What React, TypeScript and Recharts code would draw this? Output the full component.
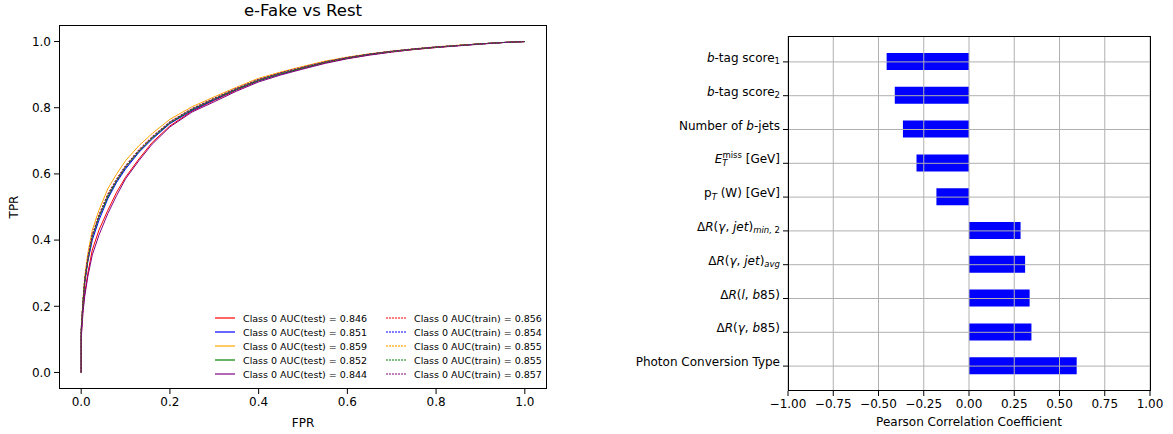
import React from 'react';
import {
  LineChart, Line, XAxis, YAxis, BarChart, Bar, ReferenceLine,
} from 'recharts';

// ---------- ROC data ----------
const fpr = [0, 0, 0.004, 0.008, 0.015, 0.025, 0.04, 0.06, 0.08, 0.10, 0.13, 0.16, 0.20, 0.25, 0.30, 0.35, 0.40, 0.45, 0.50, 0.55, 0.60, 0.65, 0.70, 0.75, 0.80, 0.85, 0.90, 0.95, 1.0];

const redTest = [0, 0.11, 0.19, 0.24, 0.30, 0.37, 0.43, 0.49, 0.545, 0.59, 0.645, 0.695, 0.745, 0.79, 0.822, 0.853, 0.881, 0.902, 0.919, 0.936, 0.949, 0.96, 0.969, 0.976, 0.982, 0.988, 0.993, 0.997, 1.0];
const blueTest = [0, 0.13, 0.21, 0.27, 0.335, 0.40, 0.46, 0.525, 0.575, 0.615, 0.665, 0.705, 0.752, 0.792, 0.824, 0.855, 0.882, 0.902, 0.92, 0.937, 0.95, 0.961, 0.97, 0.977, 0.983, 0.988, 0.993, 0.997, 1.0];
const orangeTest = [0, 0.13, 0.22, 0.29, 0.36, 0.43, 0.49, 0.555, 0.60, 0.64, 0.685, 0.722, 0.765, 0.803, 0.833, 0.862, 0.889, 0.908, 0.925, 0.941, 0.953, 0.963, 0.971, 0.978, 0.984, 0.989, 0.993, 0.997, 1.0];
const greenTest = [0, 0.12, 0.21, 0.275, 0.34, 0.41, 0.47, 0.53, 0.58, 0.62, 0.668, 0.708, 0.754, 0.794, 0.826, 0.856, 0.883, 0.903, 0.92, 0.937, 0.95, 0.961, 0.97, 0.977, 0.983, 0.988, 0.993, 0.997, 1.0];
const purpleTest = [0, 0.10, 0.18, 0.23, 0.29, 0.355, 0.415, 0.48, 0.535, 0.585, 0.64, 0.69, 0.742, 0.787, 0.818, 0.85, 0.878, 0.899, 0.917, 0.934, 0.948, 0.959, 0.968, 0.976, 0.982, 0.987, 0.992, 0.997, 1.0];

const redTrain = [0, 0.12, 0.21, 0.28, 0.345, 0.415, 0.475, 0.538, 0.584, 0.624, 0.672, 0.712, 0.757, 0.797, 0.828, 0.858, 0.885, 0.905, 0.922, 0.938, 0.951, 0.962, 0.97, 0.977, 0.983, 0.988, 0.993, 0.997, 1.0];
const blueTrain = [0, 0.12, 0.205, 0.275, 0.34, 0.41, 0.47, 0.533, 0.58, 0.62, 0.668, 0.709, 0.755, 0.795, 0.826, 0.857, 0.884, 0.904, 0.921, 0.938, 0.951, 0.962, 0.97, 0.977, 0.983, 0.988, 0.993, 0.997, 1.0];
const orangeTrain = [0, 0.125, 0.21, 0.28, 0.342, 0.412, 0.472, 0.536, 0.582, 0.622, 0.67, 0.71, 0.756, 0.796, 0.827, 0.857, 0.884, 0.904, 0.921, 0.938, 0.951, 0.962, 0.97, 0.977, 0.983, 0.988, 0.993, 0.997, 1.0];
const greenTrain = [0, 0.12, 0.21, 0.278, 0.343, 0.413, 0.471, 0.535, 0.581, 0.622, 0.67, 0.71, 0.756, 0.796, 0.827, 0.857, 0.884, 0.904, 0.921, 0.938, 0.951, 0.962, 0.97, 0.977, 0.983, 0.988, 0.993, 0.997, 1.0];
const purpleTrain = [0, 0.125, 0.215, 0.282, 0.347, 0.417, 0.476, 0.539, 0.585, 0.625, 0.673, 0.713, 0.758, 0.798, 0.829, 0.859, 0.886, 0.906, 0.923, 0.939, 0.952, 0.962, 0.971, 0.978, 0.984, 0.988, 0.993, 0.997, 1.0];

const testNames = ['Class 0 AUC(test) = 0.846', 'Class 0 AUC(test) = 0.851', 'Class 0 AUC(test) = 0.859', 'Class 0 AUC(test) = 0.852', 'Class 0 AUC(test) = 0.844'];
const trainNames = ['Class 0 AUC(train) = 0.856', 'Class 0 AUC(train) = 0.854', 'Class 0 AUC(train) = 0.855', 'Class 0 AUC(train) = 0.855', 'Class 0 AUC(train) = 0.857'];
const colors = ['#ff0000', '#0000ff', '#ffa500', '#008000', '#800080'];
const testTpr = [redTest, blueTest, orangeTest, greenTest, purpleTest];
const trainTpr = [redTrain, blueTrain, orangeTrain, greenTrain, purpleTrain];

const rocTicks = [0, 0.2, 0.4, 0.6, 0.8, 1.0];

// ---------- Correlation data ----------
const categories = ['btag1', 'btag2', 'nbjets', 'met', 'ptw', 'drmin2', 'dravg', 'drlb85', 'drgb85', 'phconv'];
const correlation = [-0.455, -0.41, -0.365, -0.29, -0.18, 0.285, 0.31, 0.335, 0.345, 0.595];
const corrTicks = [-1, -0.75, -0.5, -0.25, 0, 0.25, 0.5, 0.75, 1];
const labelParts: string[][][] = [
  [['b', 'i'], ['-tag score'], ['1', 'sub']],
  [['b', 'i'], ['-tag score'], ['2', 'sub']],
  [['Number of '], ['b', 'i'], ['-jets']],
  [['E', 'i'], ['T', 'sub i'], ['miss', 'sup back'], [' [GeV]']],
  [['p'], ['T', 'sub i'], [' (W) [GeV]']],
  [['Δ'], ['R', 'i'], ['('], ['γ', 'i'], [', '], ['jet', 'i'], [')'], ['min, ', 'sub i'], ['2', 'sub']],
  [['Δ'], ['R', 'i'], ['('], ['γ', 'i'], [', '], ['jet', 'i'], [')'], ['avg', 'sub i']],
  [['Δ'], ['R', 'i'], ['('], ['l', 'i'], [', '], ['b', 'i'], ['85)']],
  [['Δ'], ['R', 'i'], ['('], ['γ', 'i'], [', '], ['b', 'i'], ['85)']],
  [['Photon Conversion Type']],
];

const FONT = '"DejaVu Sans", sans-serif';
const FS = 12;

const fmtMinus = (v: number) => (v < 0 ? '\u2212' + Math.abs(v).toFixed(2) : v.toFixed(2));

const CatTick = (props: any) => {
  const { x, y, payload } = props;
  const idx = categories.indexOf(payload.value);
  const parts = labelParts[idx] || [[String(payload.value)]];
  let cur = 0;
  return (
    <text x={x} y={y} dy="0.36em" textAnchor="end" fontSize={FS} fill="#000" fontFamily={FONT}>
      {parts.map((p, k) => {
        const flags = p[1] || '';
        const sub = flags.includes('sub');
        const sup = flags.includes('sup');
        const shift = sub ? 2.5 : sup ? -5.5 : 0;
        const dy = shift - cur;
        cur = shift;
        return (
          <tspan
            key={k}
            dy={dy}
            dx={flags.includes('back') ? -5 : 0}
            fontStyle={flags.includes('i') ? 'italic' : 'normal'}
            fontSize={sub || sup ? 8.5 : FS}
          >
            {p[0]}
          </tspan>
        );
      })}
    </text>
  );
};

export default function App() {
  const tickStyle = { fontSize: FS, fill: '#000', fontFamily: FONT };
  const barData = categories.map((c, i) => ({ name: c, r: correlation[i] }));
  const series = [
    ...testTpr.map((t, i) => ({ key: 'test' + i, color: colors[i], dash: false, name: testNames[i], data: fpr.map((f, j) => ({ fpr: f, tpr: t[j] })) })),
    ...trainTpr.map((t, i) => ({ key: 'train' + i, color: colors[i], dash: true, name: trainNames[i], data: fpr.map((f, j) => ({ fpr: f, tpr: t[j] })) })),
  ];
  return (
    <div style={{ position: 'absolute', left: 0, top: 0, width: 1173, height: 434, background: '#fff', fontFamily: FONT, overflow: 'hidden' }}>
      {/* Left: ROC */}
      <div style={{ position: 'absolute', left: 303, top: 1, transform: 'translateX(-50%)', whiteSpace: 'nowrap', fontSize: 16.5, color: '#000' }}>
        e-Fake vs Rest
      </div>
      <div style={{ position: 'absolute', left: 0, top: 0 }}>
        <LineChart width={560} height={434} margin={{ top: 25, right: 13, left: 0, bottom: 0 }}>
          <XAxis
            dataKey="fpr"
            type="number"
            domain={[-0.05, 1.05]}
            ticks={rocTicks}
            allowDataOverflow
            tickFormatter={(v: number) => v.toFixed(1)}
            tick={tickStyle}
            tickSize={5}
            tickMargin={3}
            axisLine={false}
            tickLine={{ stroke: '#000' }}
            height={45}
            label={{ value: 'FPR', position: 'insideBottom', offset: 7, style: { fontSize: FS, fill: '#000', fontFamily: FONT } }}
          />
          <YAxis
            dataKey="tpr"
            type="number"
            domain={[-0.05, 1.05]}
            ticks={rocTicks}
            allowDataOverflow
            tickFormatter={(v: number) => v.toFixed(1)}
            tick={tickStyle}
            tickSize={5}
            tickMargin={3}
            axisLine={false}
            tickLine={{ stroke: '#000' }}
            width={59}
            label={{ value: 'TPR', angle: -90, position: 'insideLeft', offset: 14, style: { fontSize: FS, fill: '#000', fontFamily: FONT, textAnchor: 'middle' } }}
          />
          {series.map((s) => (
            <Line
              key={s.key}
              data={s.data}
              dataKey="tpr"
              type="linear"
              stroke={s.color}
              strokeWidth={1}
              strokeDasharray={s.dash ? '2 1.5' : undefined}
              dot={false}
              activeDot={false}
              isAnimationActive={false}
            />
          ))}
        </LineChart>
      </div>
      <div style={{ position: 'absolute', left: 59, top: 25, width: 488, height: 364, boxSizing: 'border-box', border: '1px solid #000', pointerEvents: 'none' }} />
      {/* Legend */}
      <div style={{ position: 'absolute', left: 214, top: 311, display: 'grid', gridTemplateColumns: '171px 160px', gridAutoFlow: 'column', gridTemplateRows: 'repeat(5, 14px)', fontSize: 9.5, color: '#000' }}>
        {series.map((s) => (
          <div key={s.key} style={{ display: 'flex', alignItems: 'center', height: 14, whiteSpace: 'nowrap' }}>
            <svg width={22} height={6} style={{ marginRight: 7 }}>
              <line x1={1} y1={3} x2={21} y2={3} stroke={s.color} strokeWidth={s.color === '#ffa500' ? 2 : 1.2} strokeOpacity={s.color === '#ffa500' ? 0.6 : 1} strokeDasharray={s.dash ? '2 1' : undefined} />
            </svg>
            <span>{s.name}</span>
          </div>
        ))}
      </div>

      {/* Right: correlation */}
      <div style={{ position: 'absolute', left: 600, top: 0 }}>
        <BarChart width={573} height={434} data={barData} layout="vertical" margin={{ top: 36, right: 23, left: 0, bottom: 0 }}>
          <XAxis
            type="number"
            domain={[-1, 1]}
            ticks={corrTicks}
            allowDataOverflow
            tickFormatter={fmtMinus}
            tick={tickStyle}
            tickSize={5}
            tickMargin={3}
            axisLine={false}
            tickLine={{ stroke: '#000' }}
            height={43}
            label={{ value: 'Pearson Correlation Coefficient', position: 'insideBottom', offset: 8, style: { fontSize: FS, fill: '#000', fontFamily: FONT } }}
          />
          <YAxis
            type="category"
            dataKey="name"
            width={188}
            tick={<CatTick />}
            tickSize={5}
            tickMargin={3}
            axisLine={false}
            tickLine={{ stroke: '#000' }}
            padding={{ top: 9, bottom: 8 }}
            interval={0}
          />
          <Bar dataKey="r" fill="#0000ff" barSize={17} isAnimationActive={false} />
          {corrTicks.map((t) => (
            <ReferenceLine key={'vx' + t} x={t} stroke="#b0b0b0" strokeWidth={1} ifOverflow="extendDomain" />
          ))}
          {categories.map((c) => (
            <ReferenceLine key={'hy' + c} y={c} stroke="#b0b0b0" strokeWidth={1} />
          ))}
        </BarChart>
      </div>
      <div style={{ position: 'absolute', left: 788, top: 36, width: 363, height: 355, boxSizing: 'border-box', border: '1px solid #000', pointerEvents: 'none' }} />
    </div>
  );
}
